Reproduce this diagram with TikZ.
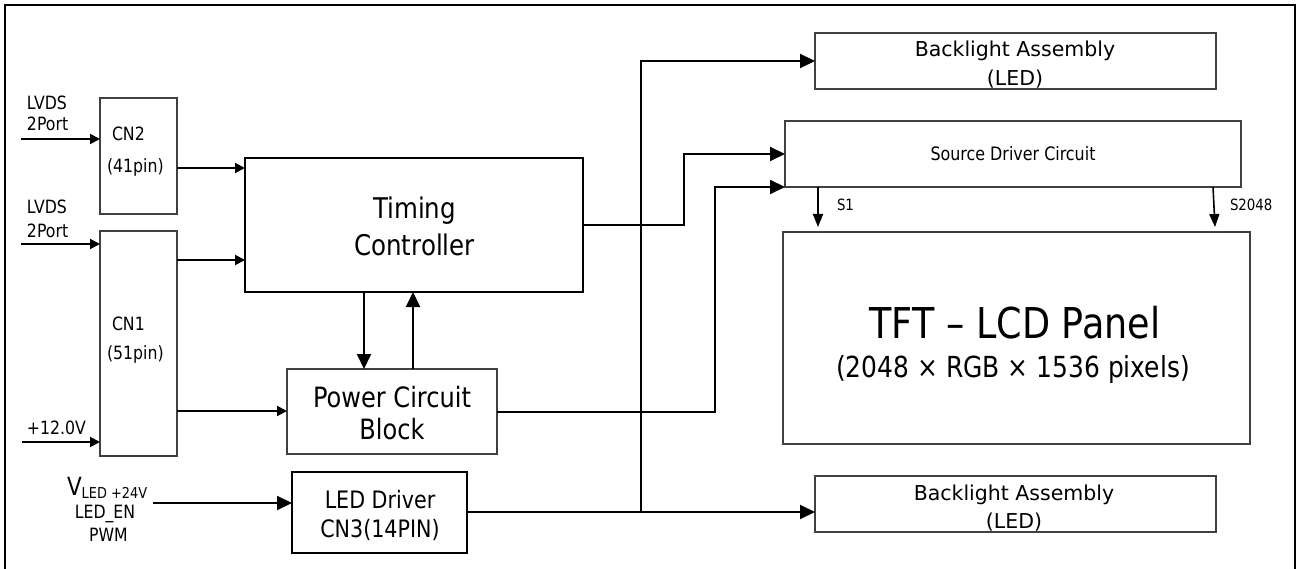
\documentclass[tikz,border=0pt]{standalone}
\usepackage{fontspec}
\setmainfont{DejaVu Sans}
\newfontfamily\tah{DejaVu Sans}[FakeStretch=0.86]
\usetikzlibrary{arrows.meta}
\newcommand\myfs[2]{\fontsize{#1}{#2}\selectfont}
\tikzset{
  box/.style={draw=black!75, line width=1.2pt, anchor=north west, inner sep=0pt, outer sep=0pt},
  tcbox/.style={box, draw=black, line width=2pt},
  ledbox/.style={box, draw=black, line width=2.6pt},
  lbl/.style={inner sep=0pt, outer sep=0pt, font=\tah},
  con/.style={line width=2pt},
  arr/.style={con, -{Triangle[length=15pt,width=14pt]}},
  sarr/.style={con, -{Triangle[length=10pt,width=10pt]}},
  tarr/.style={line width=1.6pt, -{Triangle[length=13pt,width=10pt]}},
  small/.style={lbl, font=\tah\myfs{18.3}{22}},
}
\begin{document}
\begin{tikzpicture}[x=1pt,y=-1pt]
\useasboundingbox (0,0) rectangle (1300,569);
\draw[line width=2.2pt] (5,5) rectangle (1295,580);

% boxes
\node[box, minimum width=77pt, minimum height=116pt] (cn2) at (100,98) {};
\node[box, minimum width=77pt, minimum height=225pt] (cn1) at (100,231) {};
\node[tcbox, minimum width=338pt, minimum height=134pt] (tc) at (245,158) {};
\node[box, minimum width=210pt, minimum height=85pt] (pwr) at (287,369) {};
\node[ledbox, minimum width=175pt, minimum height=81pt] (led) at (292,472) {};
\node[box, minimum width=401pt, minimum height=56pt] (bl1) at (815,33) {};
\node[box, minimum width=456pt, minimum height=66pt] (src) at (785,121) {};
\node[box, minimum width=467pt, minimum height=212pt] (tft) at (783,232) {};
\node[box, minimum width=401pt, minimum height=56pt] (bl2) at (815,476) {};

% texts
\node[small, anchor=base west] (l1a) at (27,110) {LVDS};
\node[small, anchor=base west] (l1b) at (27,131) {2Port};
\node[small, anchor=base west] (l2a) at (27,214) {LVDS};
\node[small, anchor=base west] (l2b) at (27,237) {2Port};
\node[small, anchor=base west] (cn2a) at (112,141) {CN2};
\node[small, anchor=base west] (cn2b) at (107,173) {(41pin)};
\node[small, anchor=base west] (cn1a) at (112,330) {CN1};
\node[small, anchor=base west] (cn1b) at (107,359) {(51pin)};
\node[small, anchor=base west] (v12) at (27,434) {+12.0V};
\node[lbl, anchor=base west] (vled) at (67,495) {\myfs{25}{25}V\raisebox{-3pt}{\myfs{15}{15}LED +24V}};
\node[small, anchor=base] (ledena) at (105,518) {LED\_EN};
\node[small, anchor=base] (pwm) at (108.5,541) {PWM};

\node[lbl, align=center, anchor=base, font=\tah\myfs{28.5}{36}] (tct) at (414.5,255) {Timing\\Controller};
\node[lbl, align=center, anchor=base, font=\tah\myfs{28}{32}] (pwrt) at (392,439) {Power Circuit\\Block};
\node[lbl, align=center, anchor=base, font=\tah\myfs{24}{29}] (ledt) at (380,537) {LED Driver\\CN3(14PIN)};
\node[lbl, align=center, anchor=base, font=\myfs{20.5}{29}] (bl1t) at (1015,86) {Backlight Assembly\\(LED)};
\node[lbl, align=center, anchor=base, font=\myfs{20.5}{28}] (bl2t) at (1014,528) {Backlight Assembly\\(LED)};
\node[lbl, anchor=base, font=\tah\myfs{18.5}{22}] (srct) at (1013,161) {Source Driver Circuit};
\node[lbl, anchor=base, font=\tah\myfs{42.5}{48}] (tftt) at (1015,338) {TFT – LCD Panel};
\node[lbl, anchor=base, font=\tah\myfs{29}{34}] (tftp) at (1013,377) {(2048 × RGB × 1536 pixels)};
\node[lbl, anchor=base west, font=\tah\myfs{15.5}{18}] (s1) at (837,211) {S1};
\node[lbl, anchor=base west, font=\tah\myfs{15.5}{18}] (s2048) at (1230,211) {S2048};

% connectors
\coordinate (in1) at (21,139);
\coordinate (in2) at (21,244);
\coordinate (in3) at (22,442);
\coordinate (in4) at (153,503);
\draw[sarr] (in1) -- (cn2.west |- in1);
\draw[sarr] (in2) -- (cn1.west |- in2);
\draw[sarr] (in3) -- (cn1.west |- in3);
\draw[arr] (in4) -- (led.west |- in4);

\draw[sarr] (cn2.east |- 0,168) -- (tc.west |- 0,168);
\draw[sarr] (cn1.east |- 0,260) -- (tc.west |- 0,260);
\draw[sarr] (cn1.east |- 0,411) -- (pwr.west |- 0,411);

\draw[arr] (tc.south -| 364,0) -- (pwr.north -| 364,0);
\draw[arr] (pwr.north -| 413,0) -- (tc.south -| 413,0);

\draw[arr] (tc.east |- 0,225) -| (684,154) -- (src.west |- 0,154);
\draw[arr] (pwr.east |- 0,412) -| (715,187) -- (src.west |- 0,187);
\draw[arr] (led.east |- 0,512) -| (641,61) -- (bl1.west |- 0,61);
\draw[arr] (led.east |- 0,512) -- (bl2.west |- 0,512);

\draw[tarr] (src.south -| 818,0) -- (818,227);
\draw[tarr] (src.south -| 1213,0) -- (1215,227);
\end{tikzpicture}
\end{document}
